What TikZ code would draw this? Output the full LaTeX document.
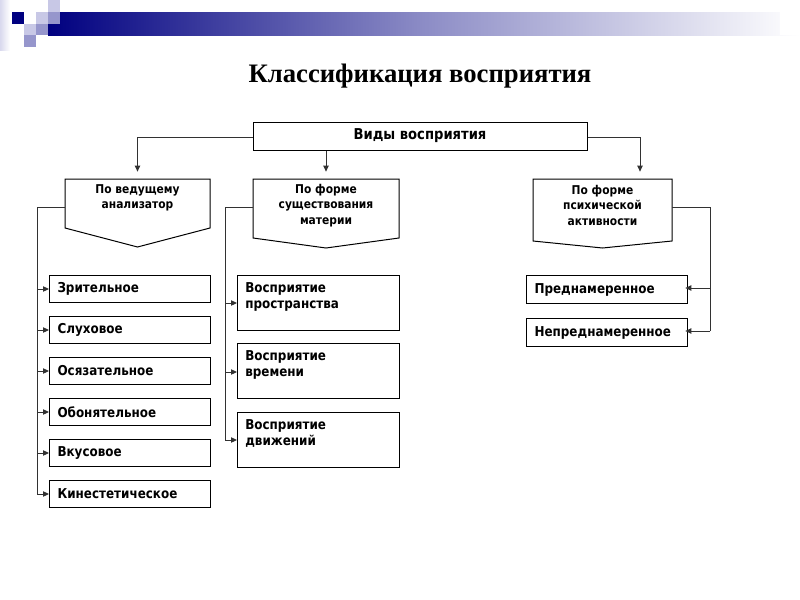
\documentclass[tikz,border=0pt]{standalone}
\usepackage{fontspec}
\setmainfont{DejaVu Sans}[FakeStretch=0.88]
\newfontfamily\titlefont{Liberation Serif}
\usetikzlibrary{arrows.meta}
\definecolor{navy}{RGB}{0,0,128}
\definecolor{lavA}{RGB}{200,200,230}
\definecolor{lavB}{RGB}{150,150,204}
\definecolor{lnc}{RGB}{50,50,50}
\begin{document}
\begin{tikzpicture}[x=0.75pt,y=-0.75pt,
  every node/.style={font=\bfseries\fontsize{10.2}{11.6}\selectfont, text=black},
  lbox/.style={draw=black, line width=0.75pt, anchor=north west, minimum width=120.75pt, minimum height=20.25pt, text width=108.75pt, inner xsep=6pt, inner ysep=0pt, align=left},
  rbox/.style={lbox, minimum height=21pt},
  mbox/.style={draw=black, line width=0.75pt, anchor=north west, minimum width=121.5pt, minimum height=41.25pt, inner sep=0pt},
  mtext/.style={anchor=north west, align=left, inner sep=0pt, font=\bfseries\fontsize{10.2}{12}\selectfont},
  pent/.style={draw=black, line width=0.75pt},
  ptext/.style={align=center, anchor=north, inner sep=0pt, font=\bfseries\fontsize{9.1}{11.6}\selectfont},
  conn/.style={draw=lnc, line width=0.75pt},
  arr/.style={conn, -{Triangle[length=4.5pt,width=4pt]}}
]
\useasboundingbox (0,0) rectangle (800,600);
% decoration
\shade[left color=navy, right color=white, middle color=navy!45!white] (48,12) rectangle (800,35);
\fill[white] (780,12) rectangle (800,35);
\shade[left color=lavA!70!white, right color=white] (0,0) rectangle (10,50);
\fill[navy] (12,12) rectangle (24,24);
\fill[lavA] (48,0) rectangle (60,12);
\fill[lavA] (36,12) rectangle (48,24);
\fill[lavB] (48,12) rectangle (60,24);
\fill[lavA] (24,24) rectangle (36,35);
\fill[lavB] (36,24) rectangle (48,35);
\fill[lavB] (24,35) rectangle (36,47);

% title
\node (title) at (420,76) {\titlefont\bfseries\fontsize{20}{24}\selectfont Классификация восприятия};

% top box
\node[draw=black, line width=0.75pt, minimum width=250.5pt, minimum height=21pt, inner sep=0pt, font=\bfseries\fontsize{11.2}{12}\selectfont] (top) at (420,136) {Виды восприятия};

% pentagons
\draw[pent] (65,179) -- (210,179) -- (210,228) -- (137.5,247) -- (65,228) -- cycle;
\draw[pent] (253,179) -- (399,179) -- (399,238) -- (326,248) -- (253,238) -- cycle;
\draw[pent] (533,179) -- (672,179) -- (672,241) -- (602.5,248) -- (533,241) -- cycle;
\node[ptext] (p1) at (137.5,184) {По ведущему\\анализатор};
\node[ptext] (p2) at (326,184) {По форме\\существования\\материи};
\node[ptext] (p3) at (602.5,185) {По форме\\психической\\активности};
\coordinate (p1top) at (137.5,179);
\coordinate (p2top) at (326,179);
\coordinate (p3top) at (640,179);
\coordinate (p1side) at (65,207);
\coordinate (p2side) at (253,207);
\coordinate (p3side) at (672,207);

% top arrows
\draw[arr] (top.west |- 0,137) -| ([yshift=5.5pt]p1top);
\draw[arr] (top.south -| p2top) -- ([yshift=5.5pt]p2top);
\draw[arr] (top.east |- 0,137) -| ([yshift=5.5pt]p3top);

% left boxes
\node[lbox] (a1) at (49,275) {Зрительное};
\node[lbox] (a2) at (49,316) {Слуховое};
\node[lbox] (a3) at (49,357) {Осязательное};
\node[lbox] (a4) at (49,398) {Обонятельное};
\node[lbox] (a5) at (49,439) {Вкусовое};
\node[lbox] (a6) at (49,480) {Кинестетическое};
\draw[conn] (p1side) -- (37,207) -- (37,494) coordinate (lb);
\foreach \i in {1,...,6} { \draw[arr] (a\i.west -| lb) -- (a\i.west); }

% middle boxes
\node[mbox] (b1) at (237,275) {};
\node[mbox] (b2) at (237,343) {};
\node[mbox] (b3) at (237,412) {};
\node[mtext] (t1) at (245,282) {Восприятие\\пространства};
\node[mtext] (t2) at (245,350) {Восприятие\\времени};
\node[mtext] (t3) at (245,419) {Восприятие\\движений};
\draw[conn] (p2side) -- (225,207) -- (225,440) coordinate (mb);
\draw[arr] (225,303) -- (b1.west |- 0,303);
\draw[arr] (225,372) -- (b2.west |- 0,372);
\draw[arr] (225,440) -- (b3.west |- 0,440);

% right boxes
\node[rbox] (c1) at (526,275) {Преднамеренное};
\node[rbox] (c2) at (526,318) {Непреднамеренное};
\draw[conn] (p3side) -- (710,207) -- (710,331) coordinate (rb);
\draw[arr] (710,288) -- ([xshift=-2pt]c1.east |- 0,288);
\draw[arr] (rb) -- ([xshift=-2pt]c2.east |- 0,331);
\end{tikzpicture}
\end{document}
